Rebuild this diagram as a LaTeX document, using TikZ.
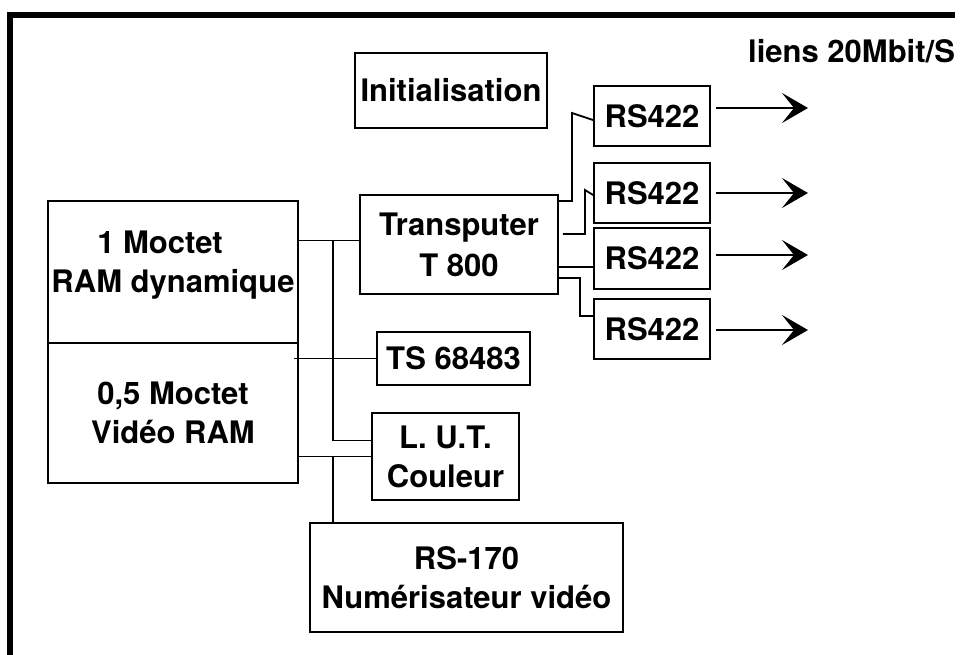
\documentclass[tikz,border=0pt]{standalone}
\usepackage{fontspec}
\setmainfont{TeX Gyre Heros}
\usetikzlibrary{arrows.meta}
\begin{document}
\begin{tikzpicture}[x=1pt,y=-1pt,
  txt/.style={font=\fontsize{31}{39}\selectfont\bfseries},
  box/.style={draw, line width=1.8pt, rectangle, inner sep=0pt, align=center, txt},
  wire/.style={line width=1.8pt},
  link/.style={line width=1.8pt, -{Stealth[length=26pt,width=30pt,inset=12pt]}},
  framestyle/.style={line width=6pt}]
\useasboundingbox (0,0) rectangle (961,654);
% frame
\coordinate (fa) at (10,670);
\coordinate (fb) at (10,15);
\coordinate (fc) at (955,15);
\draw[framestyle] (fa) -- (fb) -- (fc);
% boxes
\node[box, minimum width=192pt, minimum height=75pt] (init) at (451,90.5) {Initialisation};
\node[box, minimum width=116pt, minimum height=60pt] (rs1) at (652,116) {RS422};
\node[box, minimum width=116pt, minimum height=60pt] (rs2) at (652,193) {RS422};
\node[box, minimum width=116pt, minimum height=61pt] (rs3) at (652,258.5) {RS422};
\node[box, minimum width=116pt, minimum height=60pt] (rs4) at (652,329) {RS422};
\node[box, minimum width=198pt, minimum height=99pt] (trans) at (459,244.5) {Transputer\\[2pt]T 800};
\node[box, minimum width=250pt, minimum height=142pt] (memA) at (173,272) {};
\node[txt, align=center, inner sep=0pt] (memAtxt) at (173,265) {1 Moctet\hspace*{26pt}\\RAM dynamique};
\node[box, minimum width=250pt, minimum height=140pt] (memB) at (173,413) {0,5 Moctet\\Vidéo RAM};
\node[box, minimum width=153pt, minimum height=53pt] (ts) at (453.5,358.5) {TS 68483};
\node[box, minimum width=147pt, minimum height=87pt] (lut) at (445.5,456.5) {L. U.T.\\Couleur};
\node[box, minimum width=313pt, minimum height=109pt] (rs170) at (466.5,577.5) {RS-170\\Numérisateur vidéo};
\node[txt, anchor=base west, inner sep=0pt] (lbl) at (748,62) {liens 20Mbit/S};
% bus connections
\coordinate (bx) at (333,0);
\path ([yshift=4pt]trans.west) coordinate (tin);
\path ([yshift=16pt]lut.west) coordinate (lin);
\draw[wire] (memA.east |- tin) -- (tin);
\draw[wire] (bx |- tin) |- (lin);
\draw[wire] ([xshift=-5pt]memB.east |- ts.west) -- (ts.west);
\draw[wire] (memB.east |- lut.west) -- (lut.west);
\draw[wire] (bx |- lut.west) -- (bx |- rs170.north);
% transputer to RS422
\coordinate (k1) at (572,113);
\draw[wire] ([yshift=43.5pt]trans.east) -| (k1) -- ([yshift=-4pt]rs1.west);
\coordinate (k2) at (585,190);
\draw[wire] ([xshift=4pt,yshift=10.5pt]trans.east) -| (k2) -- ([yshift=-2pt]rs2.west);
\path ([yshift=-8.5pt]rs3.west) coordinate (r3in);
\draw[wire] (r3in -| trans.east) -- (r3in);
\coordinate (k4) at (580,316);
\draw[wire] ([yshift=-33.5pt]trans.east) -| (k4) -- (k4 -| rs4.west);
% output links
\coordinate (e1) at (808,108);
\coordinate (e2) at (808,193);
\coordinate (e3) at (808,255);
\coordinate (e4) at (808,330);
\draw[link] ([xshift=5pt]rs1.east |- e1) -- (e1);
\draw[link] ([xshift=5pt]rs2.east |- e2) -- (e2);
\draw[link] ([xshift=5pt]rs3.east |- e3) -- (e3);
\draw[link] ([xshift=5pt]rs4.east |- e4) -- (e4);
\end{tikzpicture}
\end{document}
